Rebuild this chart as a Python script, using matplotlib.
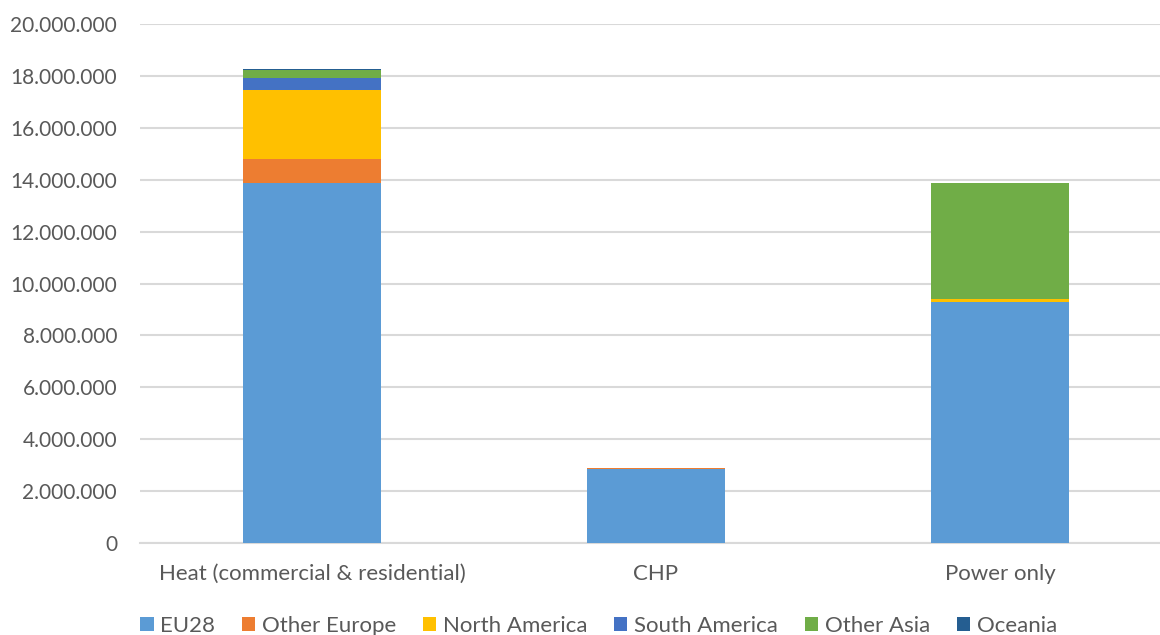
import numpy as np
from matplotlib import pyplot as plt
from matplotlib.ticker import FuncFormatter, MultipleLocator

plt.rcParams['font.family'] = ['Lato', 'DejaVu Sans']

categories = ['Heat (commercial & residential)', 'CHP', 'Power only']
regions = ['EU28', 'Other Europe', 'North America', 'South America', 'Other Asia', 'Oceania']
eu28 = [13870000, 2850000, 9290000]
other_europe = [930000, 50000, 0]
north_america = [2660000, 0, 100000]
south_america = [470000, 0, 0]
other_asia = [310000, 0, 4490000]
oceania = [30000, 0, 0]
colors = ['#5B9BD5', '#ED7D31', '#FFC000', '#4472C4', '#70AD47', '#255E91']

W, H = 1160, 635
fig = plt.figure(figsize=(W / 100, H / 100), dpi=100)
ax = fig.add_axes([140 / W, (H - 543) / H, 1032 / W, 519 / H])

x = np.arange(len(categories))
bottom = np.zeros(len(categories))
for name, vals, c in zip(regions, [eu28, other_europe, north_america, south_america, other_asia, oceania], colors):
    ax.bar(x, vals, 0.4, bottom=bottom, color=c, label=name, zorder=3)
    bottom += np.array(vals)

ax.set_xlim(-0.5, 2.5)
ax.set_ylim(0, 20000000)
ax.yaxis.set_major_locator(MultipleLocator(2000000))
ax.yaxis.set_major_formatter(FuncFormatter(lambda v, p: '{:,.0f}'.format(v).replace(',', '.')))
ax.grid(axis='y', color='#D9D9D9', linewidth=1.5, zorder=0)
for s in ['top', 'right', 'left']:
    ax.spines[s].set_visible(False)
ax.spines['bottom'].set_color('#D9D9D9')
ax.spines['bottom'].set_linewidth(1.5)
ax.set_xticks(x)
ax.set_xticklabels(categories)
ax.tick_params(length=0, colors='#595959')
ax.tick_params(axis='x', labelsize=16, pad=15)
ax.tick_params(axis='y', labelsize=15, pad=16.5)

fig.legend(loc='center', bbox_to_anchor=(0.516, (H - 626) / H), ncol=6, frameon=False,
           fontsize=16, labelcolor='#595959', handlelength=0.6, handleheight=0.6,
           handletextpad=0.3, columnspacing=1.2)

fig.savefig('out.png', dpi=100)
